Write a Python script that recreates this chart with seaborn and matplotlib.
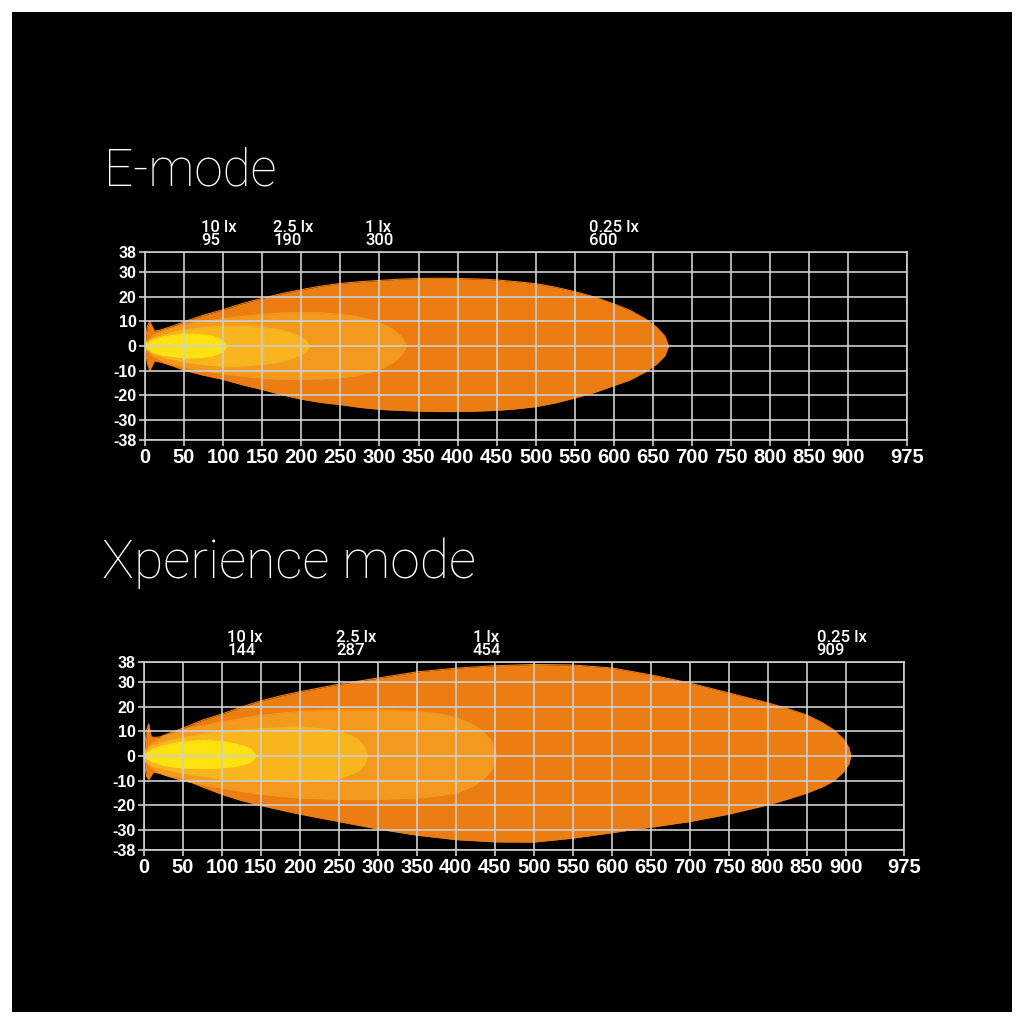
import numpy as np
import pandas as pd
import matplotlib
matplotlib.use("Agg")
import matplotlib.pyplot as plt
from matplotlib.patches import Rectangle
import matplotlib.transforms as mtransforms
import seaborn as sns

# ---------------- data ----------------
x_ticks = [0, 50, 100, 150, 200, 250, 300, 350, 400, 450, 500, 550, 600, 650,
           700, 750, 800, 850, 900, 975]
y_ticks = [-38, -30, -20, -10, 0, 10, 20, 30, 38]

lux_labels = ["10 lx", "2.5 lx", "1 lx", "0.25 lx"]
e_dist = [95, 190, 300, 600]
x_dist = [144, 287, 454, 909]

# E-mode contours (distance m, upper / lower half-width m)
e_025_x = [0, 3, 6, 9, 12, 20, 35, 50, 75, 100, 125, 150, 175, 200, 225, 250,
           275, 300, 325, 350, 375, 400, 425, 450, 475, 500, 525, 550, 575,
           600, 620, 640, 655, 665, 670]
e_025_up = [1, 8, 10, 8, 6, 6.5, 8, 9.8, 12.5, 14.7, 17.2, 19.3, 21.2, 22.8,
            24.2, 25.3, 26, 26.5, 27, 27.3, 27.4, 27.3, 27.1, 26.7, 26, 25.2,
            23.8, 22, 19.8, 17, 14.5, 11, 7.5, 4, 0]
e_025_lo = [-1, -7, -10, -8, -6, -6.5, -8, -9.8, -11.8, -13.5, -15.7, -17.6,
            -19.7, -21.5, -22.8, -23.7, -24.8, -25.6, -26, -26.3, -26.5,
            -26.5, -26.3, -26, -25.4, -24.5, -23, -21, -18.8, -16, -13.8,
            -10.5, -7.2, -4, 0]

e_1_x = [0, 10, 25, 50, 75, 100, 125, 150, 175, 200, 225, 250, 270, 290, 305,
         318, 328, 335]
e_1_up = [1, 4, 6.5, 8.5, 10, 11, 12, 12.8, 13.3, 13.5, 13.4, 12.8, 12, 10.5,
          8.8, 6.5, 3.8, 0]
e_1_lo = [-1, -4, -6.5, -8.5, -10, -11.2, -12.2, -13, -13.4, -13.5, -13.3,
          -12.8, -12, -10.5, -8.8, -6.5, -3.8, 0]

e_25_x = [0, 10, 30, 50, 75, 100, 125, 150, 170, 185, 198, 206, 211]
e_25_up = [0.8, 3, 5, 6.5, 7.4, 8, 8, 7.6, 6.6, 5.4, 3.8, 2.2, 0]
e_25_lo = [-0.8, -3, -5, -6.5, -7.5, -8.2, -8, -7.4, -6.5, -5.3, -3.8, -2.2, 0]

e_10_x = [0, 10, 25, 50, 70, 85, 95, 101, 105]
e_10_up = [0.5, 2.5, 3.8, 4.8, 4.7, 4, 3, 1.8, 0]
e_10_lo = [-0.5, -2.5, -3.8, -4.8, -4.7, -4, -3, -1.8, 0]

# Xperience mode contours
x_025_x = [0, 3, 6, 9, 12, 20, 35, 50, 75, 100, 125, 150, 175, 200, 250, 300,
           350, 400, 450, 500, 550, 600, 650, 700, 750, 800, 825, 850, 870,
           885, 897, 904, 907]
x_025_up = [1, 10, 13, 8, 7.5, 7.7, 9.5, 11.3, 14.5, 17, 19.8, 22.3, 24.3, 26,
            29, 31.5, 34, 35.5, 36.5, 37, 36.8, 35.6, 32.8, 29.5, 25.5, 21.5,
            19.2, 16.6, 13.5, 10.5, 7, 3.5, 0]
x_025_lo = [-1, -8, -9.5, -8, -6.5, -7, -8.5, -9.3, -12.5, -15.5, -18, -20,
            -21.8, -23.5, -26.5, -29.5, -32, -33.8, -34.7, -34.8, -33.2,
            -31, -28.8, -26.5, -23.5, -19.8, -17.5, -15, -12.5, -10, -6.5,
            -3.3, 0]

x_1_x = [0, 10, 25, 50, 100, 150, 200, 250, 300, 350, 380, 400, 420, 435, 445,
         450, 452]
x_1_up = [1.5, 5, 8, 10.5, 13.8, 16.5, 18, 18.6, 18.6, 18, 17, 15.5, 13, 10,
          6.5, 3.5, 0]
x_1_lo = [-1.5, -5, -7.5, -10, -13, -15.5, -17, -17.5, -17.5, -17, -16, -15,
          -12.5, -9.5, -6, -3.3, 0]

x_25_x = [0, 10, 30, 50, 100, 150, 200, 230, 250, 265, 275, 283, 287]
x_25_up = [1, 4, 6, 7.5, 10, 11, 11.7, 11, 10, 8.3, 6.5, 3.5, 0]
x_25_lo = [-1, -4, -5.5, -7, -9.3, -10.2, -10.5, -10, -9, -7.5, -6, -3.3, 0]

x_10_x = [0, 10, 25, 50, 75, 100, 115, 128, 138, 144]
x_10_up = [0.5, 2.5, 4.2, 5.7, 6.3, 5.8, 5, 4, 2.5, 0]
x_10_lo = [-0.5, -2.2, -3.8, -4.9, -5, -4.8, -4.3, -3.5, -2.2, 0]

colors = {"0.25": "#EC7D12", "1": "#F39A1E", "2.5": "#F8B51E", "10": "#FCE20E"}
grid_c = "#cfcfcf"

# ---------------- style ----------------
sns.set_theme(style="dark")
plt.rcParams["font.family"] = ["Liberation Sans", "DejaVu Sans"]

fig = plt.figure(figsize=(10.24, 10.24), dpi=100)
fig.patch.set_facecolor("white")
fig.add_artist(Rectangle((12 / 1024, 12 / 1024), 1000 / 1024, 1000 / 1024,
                         transform=fig.transFigure, facecolor="black",
                         edgecolor="none", zorder=0))


def draw_panel(rect, contours, dists, label_shift):
    ax = fig.add_axes(rect)
    ax.set_facecolor("black")
    for (xs, up, lo, c) in contours:
        ax.fill_between(xs, lo, up, color=c, lw=0, zorder=1)
        df = pd.DataFrame({"x": list(xs) + list(xs)[::-1],
                           "y": list(up) + list(lo)[::-1]})
        sns.lineplot(data=df, x="x", y="y", sort=False, color=c, lw=0.8,
                     ax=ax, zorder=1.2, estimator=None)
    ax.set_xlim(0, 975)
    ax.set_ylim(-38, 38)
    ax.set_xticks(x_ticks)
    ax.set_yticks(y_ticks)
    ax.set_xticklabels([str(t) for t in x_ticks])
    ax.set_yticklabels([str(t) for t in y_ticks])
    ax.set_xlabel("")
    ax.set_ylabel("")
    ax.set_axisbelow(False)
    ax.grid(True, color=grid_c, lw=1.2)
    for s in ax.spines.values():
        s.set_visible(True)
        s.set_color(grid_c)
        s.set_linewidth(1.2)
    ax.tick_params(axis="x", length=4, width=1.2, color=grid_c,
                   labelcolor="white", labelsize=14.5, pad=1.5, bottom=True)
    ax.tick_params(axis="y", length=4, width=1.2, color=grid_c,
                   labelcolor="white", labelsize=11.5, pad=2, left=True)
    for lab in ax.get_xticklabels() + ax.get_yticklabels():
        lab.set_fontweight("bold")
    trans = mtransforms.blended_transform_factory(ax.transData, ax.transAxes)
    for lx, d in zip(lux_labels, dists):
        ax.annotate(f"{lx}\n{d}", xy=(d, 1.0), xycoords=trans,
                    xytext=(label_shift, 3), textcoords="offset points",
                    ha="center", va="bottom", ma="left", color="white",
                    fontsize=12, fontweight="medium",
                    family=["Roboto", "DejaVu Sans"], linespacing=0.8)
    return ax


draw_panel([145 / 1024, 1 - 440 / 1024, 762 / 1024, 188 / 1024],
           [(e_025_x, e_025_up, e_025_lo, colors["0.25"]),
            (e_1_x, e_1_up, e_1_lo, colors["1"]),
            (e_25_x, e_25_up, e_25_lo, colors["2.5"]),
            (e_10_x, e_10_up, e_10_lo, colors["10"])],
           e_dist, 0)

draw_panel([144 / 1024, 1 - 850 / 1024, 760 / 1024, 188 / 1024],
           [(x_025_x, x_025_up, x_025_lo, colors["0.25"]),
            (x_1_x, x_1_up, x_1_lo, colors["1"]),
            (x_25_x, x_25_up, x_25_lo, colors["2.5"]),
            (x_10_x, x_10_up, x_10_lo, colors["10"])],
           x_dist, -8)

fig.text(104 / 1024, 1 - 186 / 1024, "E-mode", color="white", fontsize=37,
         fontweight="light", family=["Roboto", "DejaVu Sans"],
         ha="left", va="baseline")
fig.text(102 / 1024, 1 - 578 / 1024, "Xperience mode", color="white",
         fontsize=38.5, fontweight="light", family=["Roboto", "DejaVu Sans"],
         ha="left", va="baseline")

fig.savefig("out.png", dpi=100, facecolor=fig.get_facecolor())
